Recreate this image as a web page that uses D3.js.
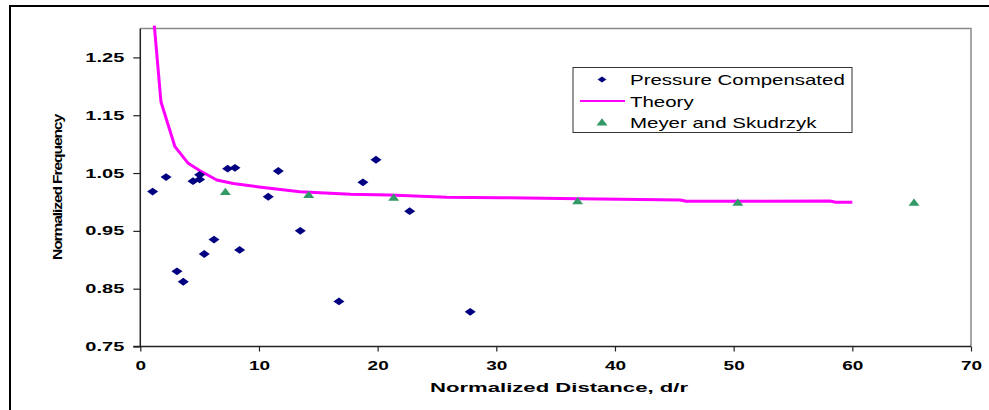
<!DOCTYPE html>
<html>
<head>
<meta charset="utf-8">
<script src="https://cdn.jsdelivr.net/npm/d3@7"></script>
<style>
  body { margin: 0; background: #fff; }
  svg { display: block; font-family: "Liberation Sans", Arial, sans-serif; }
</style>
</head>
<body>
<svg width="989" height="410"></svg>
<script>
// Pressure Compensated measurements
const pcDist = [1.04, 2.17, 4.44, 5.0, 5.0, 7.36, 7.98, 11.63, 10.78, 13.48,
                6.21, 8.37, 5.39, 3.09, 3.62, 19.86, 18.76, 22.7, 16.74, 27.8];
const pcFreq = [1.018, 1.043, 1.036, 1.039, 1.047, 1.0575, 1.059, 1.0535, 1.009, 0.950,
                0.935, 0.917, 0.910, 0.880, 0.862, 1.073, 1.034, 0.984, 0.828, 0.810];

// Meyer and Skudrzyk
const msDist = [7.17, 14.19, 21.35, 36.85, 50.35, 65.2];
const msFreq = [1.018, 1.013, 1.008, 1.002, 0.9994, 0.9994];

// Theory curve
const thDist = [1.18, 1.74, 2.92, 4.04, 5.03, 6.44, 7.83, 10.0, 13.45, 17.7,
                21.0, 25.8, 30.3, 37.0, 45.5, 46.0, 58.1, 58.6, 60.0];
const thFreq = [1.305, 1.1734, 1.0956, 1.0668, 1.054, 1.038, 1.032, 1.026, 1.0177, 1.0132,
                1.012, 1.008, 1.0074, 1.0056, 1.0034, 1.0011, 1.0016, 0.9994, 0.9994];

const xTicks = [0, 10, 20, 30, 40, 50, 60, 70];
const yTicks = [0.75, 0.85, 0.95, 1.05, 1.15, 1.25];
const seriesNames = ['Pressure Compensated', 'Theory', 'Meyer and Skudrzyk'];

const svg = d3.select('svg');
const pLeft = 140.3, pRight = 971, pTop = 28.5, pBottom = 346.5;

const x = d3.scaleLinear().domain([0, 70]).range([pLeft, pRight]);
const y = d3.scaleLinear().domain([0.75, 1.30]).range([pBottom, pTop]);

// stretch text horizontally like the original (wide rendering)
function stretch(sel, k) {
  sel.each(function () {
    const w = this.getComputedTextLength();
    d3.select(this).attr('textLength', w * k).attr('lengthAdjust', 'spacingAndGlyphs');
  });
}

// outer frame
svg.append('rect')
  .attr('x', 10).attr('y', 6).attr('width', 1000).attr('height', 500)
  .attr('fill', 'none').attr('stroke', '#000').attr('stroke-width', 2);

// plot border top / right
svg.append('path')
  .attr('d', `M${pLeft},${pTop}H${pRight}V${pBottom}`)
  .attr('fill', 'none').attr('stroke', '#8a8a8a').attr('stroke-width', 1.5);

// axes
const yAxis = svg.append('g')
  .attr('transform', `translate(${pLeft},0)`)
  .call(d3.axisLeft(y).tickValues(yTicks).tickFormat(d3.format('.2f')).tickSize(7).tickPadding(9));
const xAxis = svg.append('g')
  .attr('transform', `translate(0,${pBottom})`)
  .call(d3.axisBottom(x).tickValues(xTicks).tickFormat(d3.format('d')).tickSize(5).tickPadding(10));

[yAxis, xAxis].forEach(a => {
  a.select('.domain').attr('stroke', '#222').attr('stroke-width', 1.5);
  a.selectAll('.tick line').attr('stroke', '#222').attr('stroke-width', 1.2);
  a.selectAll('text')
    .attr('font-family', '"Liberation Sans", Arial, sans-serif')
    .attr('font-size', 12.5).attr('font-weight', 'bold').attr('fill', '#000');
});
yAxis.select('.domain').attr('d', `M-7,${pBottom}H0V${pTop}`);
xAxis.select('.domain').attr('d', `M${pLeft},0H${pRight}`);
stretch(yAxis.selectAll('text'), 1.6);
stretch(xAxis.selectAll('text'), 1.52);

// axis titles
svg.append('text')
  .attr('x', 559).attr('y', 392)
  .attr('text-anchor', 'middle')
  .attr('font-size', 12.5).attr('font-weight', 'bold')
  .attr('textLength', 258).attr('lengthAdjust', 'spacingAndGlyphs')
  .text('Normalized Distance, d/r');

svg.append('text')
  .attr('transform', 'translate(62,187.5) rotate(-90)')
  .attr('text-anchor', 'middle')
  .attr('font-size', 13.5).attr('font-weight', 'bold')
  .attr('letter-spacing', -1)
  .attr('textLength', 145).attr('lengthAdjust', 'spacingAndGlyphs')
  .text('Normalized Frequency');

const diamond = 'M-5.5,0L0,-3.9L5.5,0L0,3.9Z';
const triangle = 'M-5.5,3.5L0,-3.8L5.5,3.5Z';

// theory line
const line = d3.line().x(i => x(thDist[i])).y(i => y(thFreq[i]));
svg.append('path')
  .datum(d3.range(thDist.length))
  .attr('d', line)
  .attr('fill', 'none').attr('stroke', '#ff00ff').attr('stroke-width', 3)
  .attr('stroke-linejoin', 'round');

// pressure compensated
svg.selectAll('.pc')
  .data(pcDist)
  .enter()
  .append('path')
  .attr('class', 'pc')
  .attr('d', diamond)
  .attr('transform', (d, i) => `translate(${x(d)},${y(pcFreq[i])})`)
  .attr('fill', '#000080');

// meyer and skudrzyk
svg.selectAll('.ms')
  .data(msDist)
  .enter()
  .append('path')
  .attr('class', 'ms')
  .attr('d', triangle)
  .attr('transform', (d, i) => `translate(${x(d)},${y(msFreq[i])})`)
  .attr('fill', '#339966');

// legend
const lg = svg.append('g');
lg.append('rect')
  .attr('x', 573).attr('y', 67.5).attr('width', 279).attr('height', 65)
  .attr('fill', '#fff').attr('stroke', '#333').attr('stroke-width', 1);
const rows = [79.5, 101, 122];
lg.append('path').attr('d', diamond).attr('transform', `translate(602,${rows[0]}) scale(0.8)`).attr('fill', '#000080');
lg.append('line').attr('x1', 580).attr('x2', 625).attr('y1', rows[1]).attr('y2', rows[1])
  .attr('stroke', '#ff00ff').attr('stroke-width', 2);
lg.append('path').attr('d', triangle).attr('transform', `translate(602,${rows[2]})`).attr('fill', '#339966');
const lt = lg.selectAll('.lt')
  .data(seriesNames)
  .enter()
  .append('text')
  .attr('class', 'lt')
  .attr('x', 630)
  .attr('y', (d, i) => rows[i] + 5.5)
  .attr('font-size', 14.5)
  .text(d => d);
stretch(lt, 1.41);
</script>
</body>
</html>
